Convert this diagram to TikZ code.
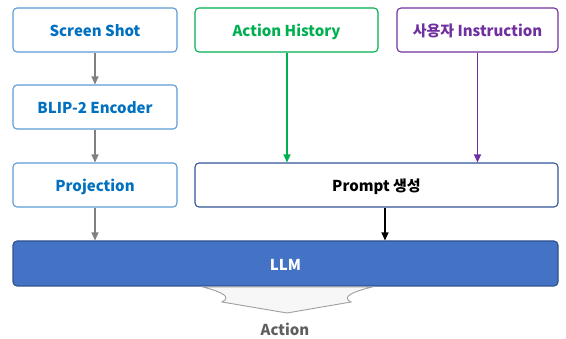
\documentclass[tikz,border=0pt]{standalone}
\usepackage{fontspec}
\setmainfont{Noto Sans CJK KR}
\usetikzlibrary{arrows.meta}
\definecolor{sblue}{RGB}{0,112,192}
\definecolor{sbord}{RGB}{91,155,213}
\definecolor{sgreen}{RGB}{0,176,80}
\definecolor{spurp}{RGB}{112,48,160}
\definecolor{pbord}{RGB}{47,85,151}
\definecolor{llmfill}{RGB}{68,114,196}
\definecolor{llmbord}{RGB}{47,82,143}
\definecolor{agray}{RGB}{95,95,95}
\tikzset{
  box/.style={draw, line width=1.1pt, rounded corners=4pt, fill=white, inner sep=0pt, text height=13.5pt, text depth=0pt, font=\bfseries\fontsize{15}{17}\selectfont},
  arr/.style={-{Triangle[length=8pt,width=7pt]}, line width=1.3pt},
}
\begin{document}
\begin{tikzpicture}[x=1pt,y=-1pt]
\useasboundingbox (0,0) rectangle (566,339);
\node[box, draw=sbord, text=sblue, minimum width=164pt, minimum height=44pt] (ss) at (95,30) {Screen Shot};
\node[box, draw=sbord, text=sblue, minimum width=164pt, minimum height=44pt] (blip) at (95,107) {BLIP-2 Encoder};
\node[box, draw=sbord, text=sblue, minimum width=164pt, minimum height=44pt] (proj) at (95,185) {Projection};
\node[box, draw=sgreen, text=sgreen, minimum width=183pt, minimum height=44pt] (ah) at (286.5,30) {Action History};
\node[box, draw=spurp, text=spurp, minimum width=161pt, minimum height=44pt] (ui) at (477.5,30) {사용자 Instruction};
\node[box, draw=pbord, text=black, minimum width=363pt, minimum height=44pt] (pr) at (376.5,185) {Prompt 생성};
\node[box, draw=llmbord, fill=llmfill, text=white, minimum width=545pt, minimum height=45pt] (llm) at (285.5,263.5) {LLM};
\draw[arr, gray] (ss) -- (blip);
\draw[arr, gray] (blip) -- (proj);
\draw[arr, gray] (proj) -- (proj |- llm.north);
\coordinate (gx) at (287,0);
\coordinate (bx) at (385,0);
\draw[arr, sgreen] (ah.south -| gx) -- (pr.north -| gx);
\draw[arr, spurp] (ui.south) -- (ui.south |- pr.north);
\draw[arr, black] (pr.south -| bx) -- (llm.north -| bx);
% Action big arrow
\path[draw=gray!75, fill=gray!6, line width=0.9pt]
  (203,287) .. controls (222,292) and (232,297) .. (222,302)
  -- (287,313) -- (351,302)
  .. controls (341,297) and (352,292) .. (372,287) -- cycle;
\node[text=agray, font=\bfseries\fontsize{15}{17}\selectfont] (act) at (285,329) {Action};
\end{tikzpicture}
\end{document}
